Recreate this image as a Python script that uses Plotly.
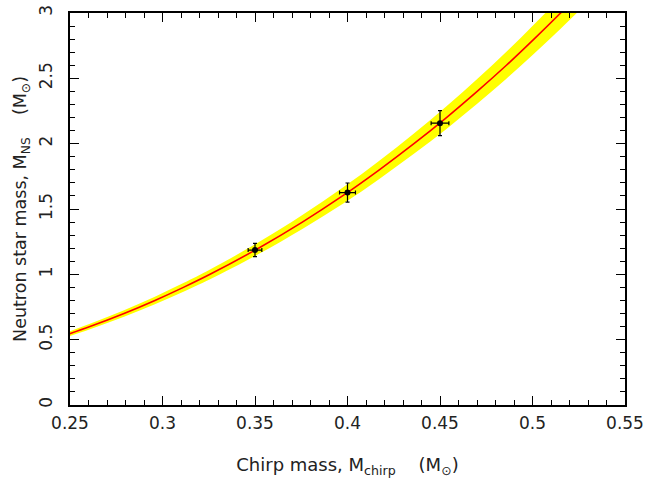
import plotly.graph_objects as go

# Curve: chirp mass (x) vs neutron-star mass (y)
chirp_mass = [0.2404, 0.2608, 0.2792, 0.2959, 0.3113, 0.3257, 0.3519, 0.3756, 0.3973,
              0.4172, 0.4359, 0.4535, 0.4701, 0.4859, 0.5008, 0.5152, 0.5291]
ns_mass = [0.50, 0.60, 0.70, 0.80, 0.90, 1.00, 1.20, 1.40, 1.60,
           1.80, 2.00, 2.20, 2.40, 2.60, 2.80, 3.00, 3.20]
ns_upper = [0.517, 0.621, 0.725, 0.829, 0.933, 1.037, 1.245, 1.454, 1.662,
            1.870, 2.078, 2.287, 2.495, 2.703, 2.912, 3.120, 3.328]
ns_lower = [0.483, 0.579, 0.675, 0.771, 0.867, 0.963, 1.155, 1.347, 1.538,
            1.730, 1.922, 2.113, 2.305, 2.497, 2.689, 2.880, 3.072]

# Measured points with error bars
pt_x = [0.35, 0.40, 0.45]
pt_y = [1.186, 1.626, 2.157]
pt_xerr = [0.0037, 0.0043, 0.0048]
pt_yerr = [0.051, 0.073, 0.096]

x_ticks = [0.25, 0.3, 0.35, 0.4, 0.45, 0.5, 0.55]
x_tick_text = ["0.25", "0.3", "0.35", "0.4", "0.45", "0.5", "0.55"]
y_ticks = [0, 0.5, 1, 1.5, 2, 2.5, 3]
y_tick_text = ["0", "0.5", "1", "1.5", "2", "2.5", "3"]

FONT = "DejaVu Sans"
TXT = "#222222"

fig = go.Figure()
fig.add_trace(go.Scatter(x=chirp_mass, y=ns_lower, mode="lines", line=dict(width=0, color="#FFFF00", shape="spline"),
                         hoverinfo="skip", showlegend=False))
fig.add_trace(go.Scatter(x=chirp_mass, y=ns_upper, mode="lines", line=dict(width=0, color="#FFFF00", shape="spline"),
                         fill="tonexty", fillcolor="#FFFF00", hoverinfo="skip", showlegend=False))
fig.add_trace(go.Scatter(x=chirp_mass, y=ns_mass, mode="lines", line=dict(width=1.6, color="#FF0000", shape="spline"),
                         showlegend=False))
fig.add_trace(go.Scatter(x=pt_x, y=pt_y, mode="markers",
                         marker=dict(size=6, color="black"),
                         error_x=dict(type="data", array=pt_xerr, color="black", thickness=1.2, width=2),
                         error_y=dict(type="data", array=pt_yerr, color="black", thickness=1.2, width=2),
                         showlegend=False))

axis_common = dict(showgrid=False, zeroline=False, showline=True, linecolor="black", linewidth=1.5,
                   mirror="allticks", ticks="inside", ticklen=9, tickwidth=1, tickcolor="black",
                   automargin=False, ticklabeloverflow="allow",
                   tickfont=dict(family=FONT, size=17, color=TXT))

fig.update_xaxes(range=[0.25, 0.55], tickmode="array", tickvals=x_ticks, ticktext=x_tick_text,
                 ticklabelstandoff=2,
                 minor=dict(ticks="inside", ticklen=5, tickwidth=1, tickcolor="black", dtick=0.01, tick0=0.25),
                 title=dict(text="Chirp mass, M<sub>chirp</sub>\u00a0\u00a0\u00a0\u00a0(M<sub>\u2299</sub>)",
                            font=dict(family=FONT, size=18, color=TXT), standoff=27),
                 **axis_common)
fig.update_yaxes(range=[0, 3], tickmode="array", tickvals=y_ticks, ticktext=y_tick_text, tickangle=-90,
                 ticklabelstandoff=9,
                 minor=dict(ticks="inside", ticklen=5, tickwidth=1, tickcolor="black", dtick=0.1, tick0=0),
                 title=dict(text="Neutron star mass, M<sub>NS</sub>\u00a0\u00a0\u00a0\u00a0(M<sub>\u2299</sub>)",
                            font=dict(family=FONT, size=17.5, color=TXT), standoff=5),
                 **axis_common)

fig.update_layout(width=649, height=478, margin=dict(l=70, r=24, t=13, b=73),
                  plot_bgcolor="white", paper_bgcolor="white")

# remove the browser's default 8px body margin so the figure fills the window
fig.write_html("out.html", config={"displayModeBar": False},
               post_script="document.body.style.margin='0';")
